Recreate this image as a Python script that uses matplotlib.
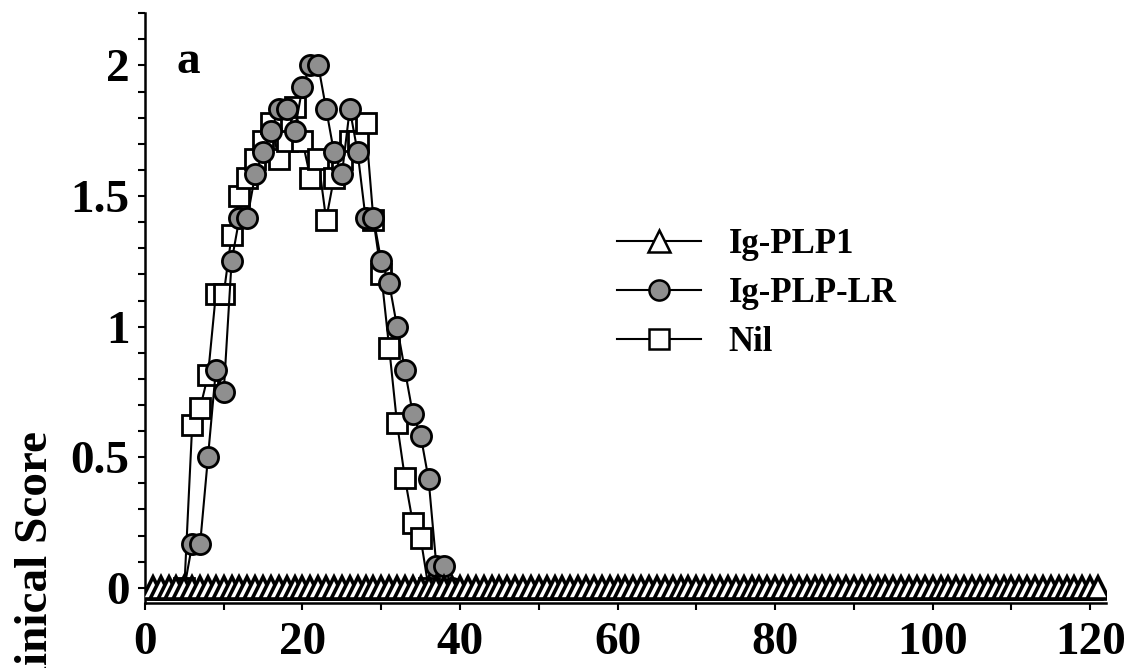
import matplotlib
matplotlib.use('Agg')
import matplotlib.pyplot as plt
import numpy as np

# mean clinical score per day for each treatment group
days_plp1 = list(range(1, 122))
score_plp1 = [0.0] * len(days_plp1)

days_lr = list(range(5, 40))
score_lr = [0.0, 0.167, 0.167, 0.5, 0.833, 0.75, 1.25, 1.417, 1.417, 1.583,
            1.667, 1.75, 1.833, 1.833, 1.75, 1.917, 2.0, 2.0, 1.833, 1.667,
            1.583, 1.833, 1.667, 1.417, 1.417, 1.25, 1.167, 1.0, 0.833, 0.667,
            0.583, 0.417, 0.083, 0.083, 0.0]

days_nil = list(range(5, 37))
score_nil = [0.0, 0.625, 0.688, 0.813, 1.125, 1.125, 1.35, 1.5, 1.57, 1.64,
             1.71, 1.78, 1.64, 1.71, 1.84, 1.71, 1.57, 1.64, 1.41, 1.57,
             1.64, 1.71, 1.71, 1.78, 1.41, 1.2, 0.92, 0.63, 0.42, 0.25,
             0.19, 0.0]

series_names = ['Ig-PLP1', 'Ig-PLP-LR', 'Nil']
x_ticks = list(range(0, 121, 10))
x_labels = [str(t) if t % 20 == 0 else '' for t in x_ticks]
y_ticks = [0, 0.5, 1, 1.5, 2]
y_labels = ['0', '0.5', '1', '1.5', '2']

plt.rcParams['font.family'] = ['Liberation Serif', 'DejaVu Serif']
plt.rcParams['font.weight'] = 'bold'

fig = plt.figure(figsize=(11.28, 6.68), dpi=100)
ax = fig.add_axes([0.1285, 0.0973, 0.852, 0.883])

ax.plot(days_nil, score_nil, color='black', lw=1.5, marker='s', ms=14,
        mfc='white', mec='black', mew=2, label=series_names[2], zorder=2)
ax.plot(days_lr, score_lr, color='black', lw=1.5, marker='o', ms=14.5,
        mfc='#8f8f8f', mec='black', mew=2, label=series_names[1], zorder=3)
ax.plot(days_plp1, score_plp1, color='black', lw=1.5, marker='^', ms=16,
        mfc='white', mec='black', mew=2.6, label=series_names[0], zorder=4)

ax.set_xlim(0, 122)
ax.set_ylim(-0.058, 2.2)
ax.set_xticks(x_ticks)
ax.set_xticklabels(x_labels)
ax.set_yticks(y_ticks)
ax.set_yticklabels(y_labels)
ax.set_yticks(np.arange(0, 2.21, 0.1), minor=True)
ax.tick_params(axis='both', which='both', direction='out', length=5, width=1.5)
ax.tick_params(axis='x', labelsize=34, pad=9)
ax.tick_params(axis='y', labelsize=34, pad=6)

for side in ['top', 'right']:
    ax.spines[side].set_visible(False)
for side in ['left', 'bottom']:
    ax.spines[side].set_linewidth(1.8)

ax.text(0.033, 0.898, 'a', transform=ax.transAxes, fontsize=34,
        fontweight='bold', ha='left', va='baseline')

fig.text(36 / 1128, 1 - 571 / 668, 'Clinical Score', rotation=90,
         fontsize=34, fontweight='bold', ha='center', va='center')

handles, labels = ax.get_legend_handles_labels()
order = [2, 1, 0]
leg = ax.legend([handles[i] for i in order], [labels[i] for i in order],
                loc='upper left', bbox_to_anchor=(0.459, 0.688), frameon=False,
                fontsize=25, handlelength=2.4, labelspacing=0.45,
                handletextpad=0.8)
for h in leg.legend_handles:
    h.set_markeredgewidth(1.8)

fig.savefig('out.png', dpi=100)
